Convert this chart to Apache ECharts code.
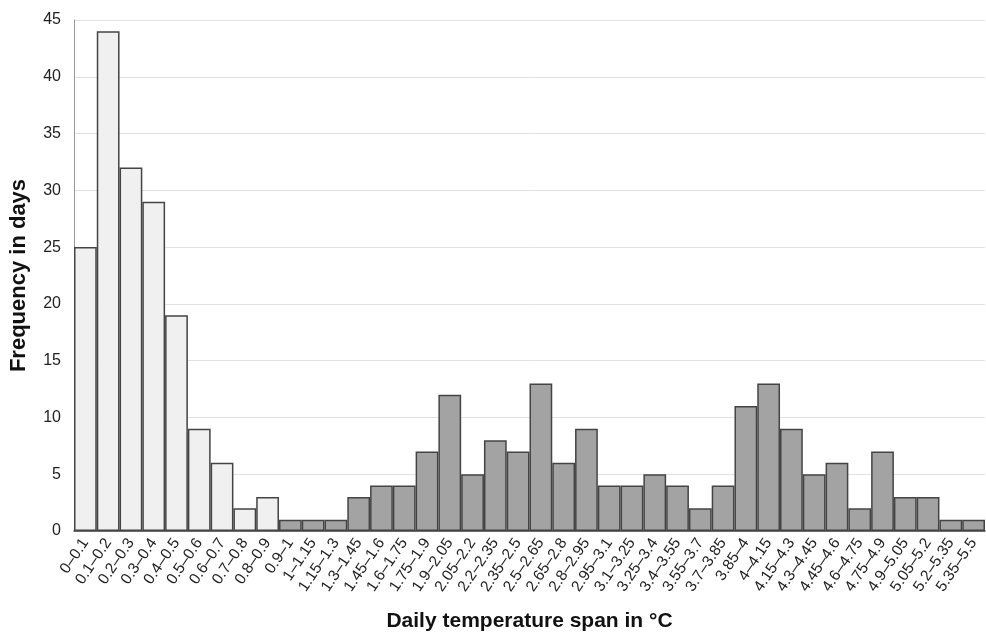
<!DOCTYPE html>
<html>
<head>
<meta charset="utf-8">
<script src="https://cdn.jsdelivr.net/npm/echarts@6/dist/echarts.min.js"></script>
<style>html,body{margin:0;padding:0;background:#fff}#c{width:986px;height:635px}</style>
</head>
<body>
<div id="c"></div>
<script>
const categories = ["0–0.1","0.1–0.2","0.2–0.3","0.3–0.4","0.4–0.5","0.5–0.6","0.6–0.7","0.7–0.8","0.8–0.9","0.9–1","1–1.15","1.15–1.3","1.3–1.45","1.45–1.6","1.6–1.75","1.75–1.9","1.9–2.05","2.05–2.2","2.2–2.35","2.35–2.5","2.5–2.65","2.65–2.8","2.8–2.95","2.95–3.1","3.1–3.25","3.25–3.4","3.4–3.55","3.55–3.7","3.7–3.85","3.85–4","4–4.15","4.15–4.3","4.3–4.45","4.45–4.6","4.6–4.75","4.75–4.9","4.9–5.05","5.05–5.2","5.2–5.35","5.35–5.5"];
const frequency = [25,44,32,29,19,9,6,2,3,1,1,1,3,4,4,7,12,5,8,7,13,6,9,4,4,5,4,2,4,11,13,9,5,6,2,7,3,3,1,1];
const lightCount = 9; // first bins drawn light
const yTicks = {min:0, max:45, interval:5};

const chart = echarts.init(document.getElementById('c'));
chart.setOption({
  animation:false,
  textStyle:{fontFamily:'Liberation Sans, Arial, sans-serif'},
  grid:{left:74, right:1, top:20, bottom:104, outerBoundsMode:'none', containLabel:false},
  xAxis:{
    type:'category', data:categories,
    name:'Daily temperature span in °C', nameLocation:'middle', nameGap:80,
    nameTextStyle:{fontSize:21, fontWeight:'bold', color:'#111'},
    axisLine:{lineStyle:{color:'#444', width:1.5}},
    axisTick:{show:false},
    axisLabel:{rotate:56, interval:0, fontSize:15.5, color:'#222', margin:9}
  },
  yAxis:{
    type:'value', min:yTicks.min, max:yTicks.max, interval:yTicks.interval,
    name:'Frequency in days', nameLocation:'middle', nameGap:44,
    nameTextStyle:{fontSize:22, fontWeight:'bold', color:'#111'},
    axisLine:{show:true, lineStyle:{color:'#999', width:1}},
    axisTick:{show:false},
    axisLabel:{fontSize:16, color:'#222', margin:13},
    splitLine:{lineStyle:{color:'#e2e2e2', width:1}}
  },
  series:[{
    type:'bar', barCategoryGap:'0%',
    data:frequency.map((v,i)=>({value:v, itemStyle:{color: i<lightCount ? '#f0f0f0' : '#a3a3a3'}})),
    itemStyle:{borderColor:'#444', borderWidth:1.5}
  }]
});
</script>
</body>
</html>
